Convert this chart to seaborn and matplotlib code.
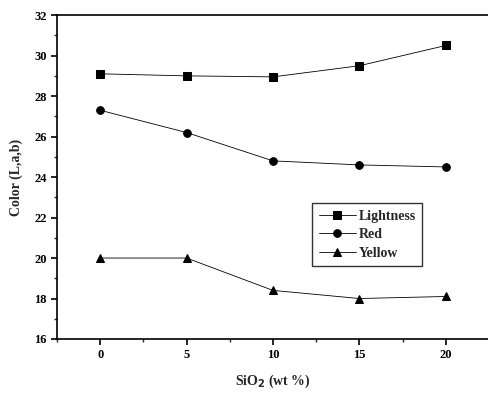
import matplotlib
matplotlib.use("Agg")
import matplotlib.pyplot as plt
import seaborn as sns
import pandas as pd
from matplotlib.ticker import MultipleLocator

sio2 = [0, 5, 10, 15, 20]
lightness = [29.1, 29.0, 28.95, 29.5, 30.5]
red = [27.3, 26.2, 24.8, 24.6, 24.5]
yellow = [20.0, 20.0, 18.4, 18.0, 18.1]
series_names = ["Lightness", "Red", "Yellow"]

df = pd.DataFrame({
    "SiO2": sio2 * 3,
    "value": lightness + red + yellow,
    "series": [s for s in series_names for _ in sio2],
})

sns.set_theme(style="ticks")
plt.rcParams["font.family"] = ["Liberation Serif", "DejaVu Serif"]
plt.rcParams["font.weight"] = "bold"

fig = plt.figure(figsize=(4.89, 3.94), dpi=100)
ax = fig.add_axes([0.1166, 0.1396, 0.8834, 0.822])

sns.lineplot(data=df, x="SiO2", y="value", hue="series", style="series",
             markers={"Lightness": "s", "Red": "o", "Yellow": "^"},
             dashes=False, palette=["black"] * 3, linewidth=0.6,
             markersize=5.5, markeredgecolor="black", ax=ax)

ax.set_xlim(-2.5, 22.5)
ax.set_ylim(16, 32)
ax.xaxis.set_major_locator(MultipleLocator(5))
ax.xaxis.set_minor_locator(MultipleLocator(2.5))
ax.yaxis.set_major_locator(MultipleLocator(2))
ax.yaxis.set_minor_locator(MultipleLocator(1))
ax.tick_params(which="major", direction="out", length=4, width=1.2, labelsize=9, colors="black")
ax.tick_params(which="minor", direction="out", length=2.5, width=1.0)
for sp in ["left", "bottom", "top"]:
    ax.spines[sp].set_linewidth(1.2)
    ax.spines[sp].set_color("black")
ax.spines["right"].set_visible(False)

ax.set_xlabel("SiO$_2$ (wt %)", fontsize=10, fontweight="bold", labelpad=8)
ax.set_ylabel("Color (L,a,b)", fontsize=10, fontweight="bold", labelpad=8)

leg = ax.legend(loc="upper left", bbox_to_anchor=(0.575, 0.44), frameon=True,
                fancybox=False, edgecolor="black", fontsize=10,
                handlelength=2.7, handletextpad=0.2, labelspacing=0.4,
                borderpad=0.45, title=None)
leg.get_frame().set_linewidth(1.0)

fig.savefig("out.png", dpi=100)
